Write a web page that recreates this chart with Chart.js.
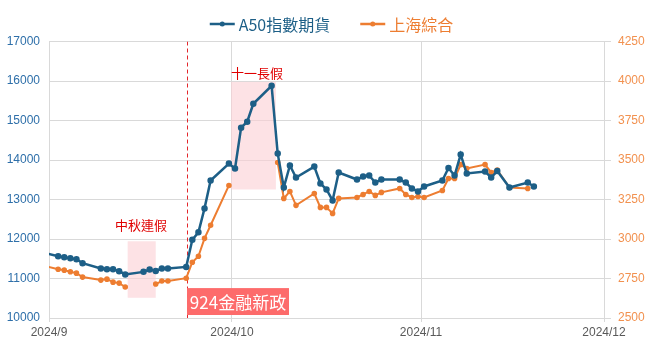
<!DOCTYPE html>
<html><head><meta charset="utf-8">
<script src="https://cdn.jsdelivr.net/npm/chart.js@4.4.1/dist/chart.umd.min.js"></script>
<style>html,body{margin:0;padding:0;background:#fff;}</style>
</head><body>
<canvas id="c" width="655" height="354"></canvas>
<script>
// ---- data ----
const dates = ['2024-08-30','2024-09-02','2024-09-03','2024-09-04','2024-09-05','2024-09-06',
  '2024-09-09','2024-09-10','2024-09-11','2024-09-12','2024-09-13','2024-09-16','2024-09-17',
  '2024-09-18','2024-09-19','2024-09-20','2024-09-23','2024-09-24','2024-09-25','2024-09-26',
  '2024-09-27','2024-09-30','2024-10-01','2024-10-02','2024-10-03','2024-10-04','2024-10-07',
  '2024-10-08','2024-10-09','2024-10-10','2024-10-11','2024-10-14','2024-10-15','2024-10-16',
  '2024-10-17','2024-10-18','2024-10-21','2024-10-22','2024-10-23','2024-10-24','2024-10-25',
  '2024-10-28','2024-10-29','2024-10-30','2024-10-31','2024-11-01','2024-11-04','2024-11-05',
  '2024-11-06','2024-11-07','2024-11-08','2024-11-11','2024-11-12','2024-11-13','2024-11-15',
  '2024-11-18','2024-11-19'];
const a50 = [11678,11564,11539,11514,11488,11387,
  11254,11236,11236,11185,11103,11168,11229,
  11193,11254,11254,11294,11980,12169,12775,
  13481,13910,13784,14818,14969,15423,15877,
  14162,13305,13860,13557,13834,13405,13254,
  12977,13683,13506,13582,13607,13430,13506,
  13506,13430,13279,13203,13330,13481,13797,
  13607,14137,13658,13708,13557,13721,13304,
  13430,13330];
const shanghai = [2837,2809,2803,2793,2784,2759,
  2740,2746,2727,2721,2696,null,null,
  2715,2734,2734,2752,2853,2891,3004,
  3087,3339,null,null,null,null,null,
  3484,3257,3301,3213,3288,3200,3200,
  3162,3257,3263,3282,3301,3276,3295,
  3320,3282,3263,3269,3263,3307,3383,
  3383,3471,3446,3471,3421,3437,3326,
  3320,null];
const seriesNames = ['A50指數期貨','上海綜合'];
const monthTickDates = ['2024-09-01','2024-10-01','2024-11-01','2024-12-01'];
const monthTickLabels = ['2024/9','2024/10','2024/11','2024/12'];
const holidayNames = ['中秋連假','十一長假'];
const policyLabel = '924金融新政';

// ---- helpers ----
const ORIGIN = Date.UTC(2024,8,1);
function dayOf(s){ const [y,m,d]=s.split('-').map(Number); return (Date.UTC(y,m-1,d)-ORIGIN)/86400000; }
const xs = dates.map(d=>dayOf(d)+0.5);
const monthTickVals = monthTickDates.map(dayOf);

const BLUE='#1d5f87', ORANGE='#ed7d31', GRID='#d9d9d9';
const CJK = "'Noto Sans CJK TC','Noto Sans CJK SC',sans-serif";
const NUMF = "'Liberation Sans',Arial,sans-serif";

// annotation regions in data units (x in days from Sep 1, y in A50 units)
const holidays = [
  {x0:12.9, x1:17.5, yTop:11942, yBot:10512, lx:15.1, ly:12346, name:holidayNames[0]},
  {x0:29.85, x1:37.2, yTop:15978, yBot:13254, lx:34.1, ly:16205, name:holidayNames[1]}
];
const policy = {x:22.63, x1:39.35, yTop:10757, yBot:10076};

const annot = {
  id:'annot',
  beforeDatasetsDraw(chart){
    const {ctx, chartArea:a, scales} = chart; const x=scales.x, y=scales.y;
    ctx.save();
    ctx.beginPath(); ctx.rect(a.left,a.top,a.width,a.height); ctx.clip();
    holidays.forEach(h=>{
      const x0=x.getPixelForValue(h.x0), x1=x.getPixelForValue(h.x1);
      const y0=y.getPixelForValue(h.yTop), y1=y.getPixelForValue(h.yBot);
      ctx.fillStyle='rgba(251,206,212,0.6)';
      ctx.fillRect(x0,y0,x1-x0,y1-y0);
    });
    const px=Math.round(x.getPixelForValue(policy.x))+0.5;
    ctx.strokeStyle='#e3262b'; ctx.lineWidth=1; ctx.setLineDash([4,3]);
    ctx.beginPath(); ctx.moveTo(px,a.top); ctx.lineTo(px,a.bottom); ctx.stroke();
    ctx.restore();
  },
  afterDatasetsDraw(chart){
    const {ctx, scales} = chart; const x=scales.x, y=scales.y;
    ctx.save();
    ctx.textAlign='center'; ctx.textBaseline='middle';
    ctx.font="13px "+CJK; ctx.fillStyle='#e00000';
    holidays.forEach(h=>{ ctx.fillText(h.name, x.getPixelForValue(h.lx), y.getPixelForValue(h.ly)); });
    const bx0=x.getPixelForValue(policy.x), bx1=x.getPixelForValue(policy.x1);
    const by0=y.getPixelForValue(policy.yTop), by1=y.getPixelForValue(policy.yBot);
    ctx.fillStyle='#fd6b6b'; ctx.fillRect(bx0,by0,bx1-bx0,by1-by0);
    ctx.fillStyle='#ffffff'; ctx.font="17px "+CJK;
    ctx.fillText(policyLabel,(bx0+bx1)/2,(by0+by1)/2+1);
    // legend
    ctx.font="16px "+CJK; ctx.textAlign='left';
    const items = chart.data.datasets.map(ds=>({t:ds.label,c:ds.borderColor}));
    const lineW=25, gap=4, sep=30;
    let total=0; items.forEach((it,i)=>{ total+=lineW+gap+ctx.measureText(it.t).width + (i?sep:0); });
    let cx=(chart.width-total)/2+4; const cy=24;
    items.forEach((it,i)=>{
      if(i) cx+=sep;
      ctx.strokeStyle=it.c; ctx.lineWidth=2.5; ctx.setLineDash([]);
      ctx.beginPath(); ctx.moveTo(cx,cy); ctx.lineTo(cx+lineW,cy); ctx.stroke();
      ctx.fillStyle=it.c; ctx.beginPath(); ctx.arc(cx+lineW/2,cy,2.5,0,Math.PI*2); ctx.fill();
      cx+=lineW+gap;
      ctx.fillStyle=it.c; ctx.fillText(it.t,cx,cy+1);
      cx+=ctx.measureText(it.t).width;
    });
    ctx.restore();
  }
};

Chart.defaults.font.family = NUMF;
new Chart(document.getElementById('c'), {
  type:'line',
  data:{
    datasets:[
      {label:seriesNames[0], data:xs.map((v,i)=>({x:v,y:a50[i]})), yAxisID:'y',
       borderColor:BLUE, backgroundColor:BLUE, borderWidth:2.5, pointRadius:2, pointHoverRadius:2, tension:0, spanGaps:false},
      {label:seriesNames[1], data:xs.map((v,i)=>({x:v,y:shanghai[i]})), yAxisID:'y1',
       borderColor:ORANGE, backgroundColor:ORANGE, borderWidth:2, pointRadius:1.8, pointHoverRadius:1.8, tension:0, spanGaps:false}
    ]
  },
  options:{
    responsive:false, animation:false, devicePixelRatio:1,
    layout:{padding:{top:41.5,left:0,right:0,bottom:0}},
    plugins:{legend:{display:false}, tooltip:{enabled:false}},
    scales:{
      x:{type:'linear', min:0, max:monthTickVals[3],
        afterBuildTicks(s){ s.ticks = monthTickVals.map(v=>({value:v})); },
        afterFit(s){ s.height=36; },
        ticks:{callback:(v)=>{const i=monthTickVals.indexOf(v); return i>=0?monthTickLabels[i]:'';},
          color:'#595959', font:{size:12}, padding:3, maxRotation:0, autoSkip:false},
        grid:{color:GRID, tickLength:4, tickColor:GRID}, border:{color:GRID}},
      y:{position:'left', min:10000, max:17000,
        afterFit(s){ s.width=49; },
        ticks:{stepSize:1000, color:'#2e6fa9', font:{size:12}, padding:9, callback:(v)=>String(v)},
        grid:{color:GRID, drawTicks:false}, border:{color:GRID}},
      y1:{position:'right', min:2500, max:4250,
        afterFit(s){ s.width=51; },
        ticks:{stepSize:250, color:'#f2914f', font:{size:12}, padding:7, callback:(v)=>String(v)},
        grid:{drawOnChartArea:false, color:GRID, tickLength:7, tickColor:GRID}, border:{color:GRID}}
    }
  },
  plugins:[annot]
});
</script>
</body></html>
